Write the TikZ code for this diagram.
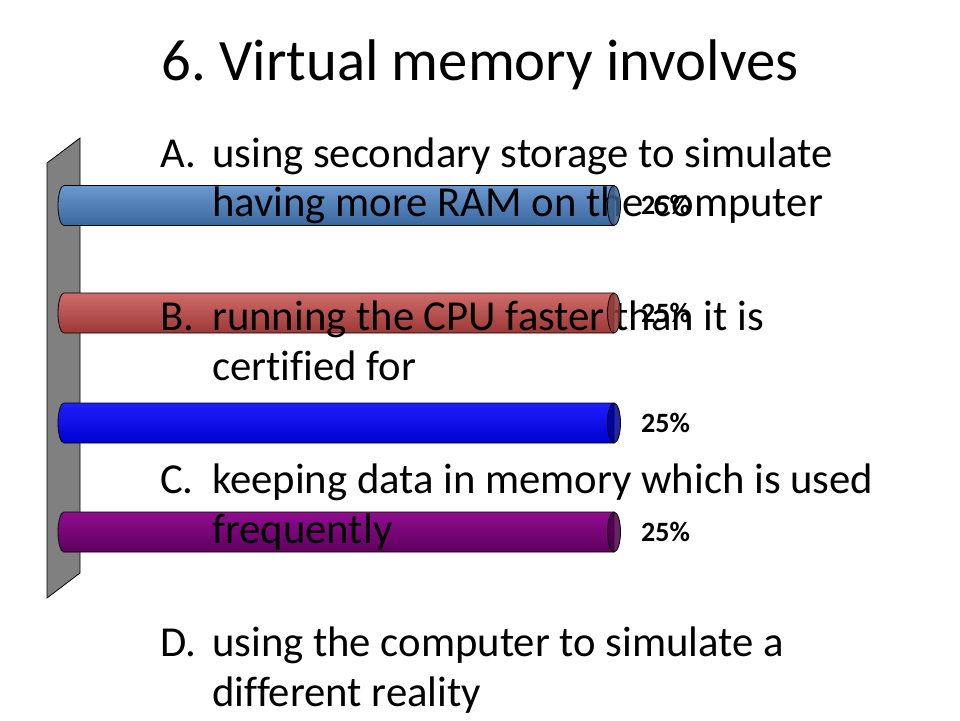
\documentclass[tikz,border=0pt]{standalone}
\usepackage{fontspec}
\setmainfont{Carlito}[Ligatures=NoCommon]
\usepackage{xcolor}
\definecolor{wall-gray}{HTML}{808080}
\definecolor{bar-a-top}{HTML}{6B98CF}
\definecolor{bar-a-bottom}{HTML}{3A679E}
\definecolor{bar-a-cap}{HTML}{385D8A}
\definecolor{bar-b-top}{HTML}{CF6C69}
\definecolor{bar-b-bottom}{HTML}{9C3936}
\definecolor{bar-b-cap}{HTML}{8C3836}
\definecolor{bar-c-top}{HTML}{1E1EFF}
\definecolor{bar-c-bottom}{HTML}{0000D0}
\definecolor{bar-c-cap}{HTML}{00008F}
\definecolor{bar-d-top}{HTML}{900C90}
\definecolor{bar-d-bottom}{HTML}{5E005E}
\definecolor{bar-d-cap}{HTML}{4A004A}
\usepackage{tikz}

\tikzset{
    slide title/.style={inner sep=0pt, font=\fontsize{58.7}{64}\selectfont},
    item text/.style={inner sep=0pt, anchor=base west, font=\fontsize{42.7}{48}\selectfont},
    pct text/.style={inner sep=0pt, anchor=base west, font=\fontsize{28}{30}\selectfont\bfseries},
    bar outline/.style={draw=black, line width=0.8pt},
}

\begin{document}
\frenchspacing
\begin{tikzpicture}[x=1pt, y=-1pt]

    % Background
    \fill[white] (0, 0) rectangle (960, 720);
    \useasboundingbox (0, 0) rectangle (960, 720);

    % Title
    \node[slide title, anchor=base] (title) at (480, 80) {6. Virtual memory involves};

    % Wall
    \fill[wall-gray, bar outline] (47, 163) -- (80, 138) -- (80, 573) -- (47, 598) -- cycle;

    % Bars
    \foreach \y/\col in {205.5/bar-a, 313/bar-b, 423/bar-c, 532/bar-d} {
        \path[bar outline, top color=\col-top, bottom color=\col-bottom]
            (614, \y-20) -- (64, \y-20) arc (270:90:6 and 20) -- (614, \y+20) -- cycle;
    }

    % Answers
    \node[item text] (la) at (160, 167) {A.};
    \node[item text] (ta1) at (212, 167) {using secondary storage to simulate};
    \node[item text] (ta2) at (212, 216) {having more RAM on the computer};
    \node[item text] (lb) at (160, 330) {B.};
    \node[item text] (tb1) at (212, 330) {running the CPU faster than it is};
    \node[item text] (tb2) at (212, 380) {certified for};
    \node[item text] (lc) at (160, 493) {C.};
    \node[item text] (tc1) at (212, 493) {keeping data in memory which is used};
    \node[item text] (tc2) at (212, 543) {frequently};
    \node[item text] (ld) at (160, 656) {D.};
    \node[item text] (td1) at (212, 656) {using the computer to simulate a};
    \node[item text] (td2) at (212, 706) {different reality};

    % Bar ends
    \foreach \y/\col in {205.5/bar-a, 313/bar-b, 423/bar-c, 532/bar-d} {
        \fill[\col-cap, bar outline, fill opacity=0.85] (614, \y) ellipse (6.5 and 20);
    }

    % Percentages
    \node[pct text] (pa) at (641, 214) {25\%};
    \node[pct text] (pb) at (641, 322) {25\%};
    \node[pct text] (pc) at (641, 432) {25\%};
    \node[pct text] (pd) at (641, 541) {25\%};

\end{tikzpicture}
\end{document}
